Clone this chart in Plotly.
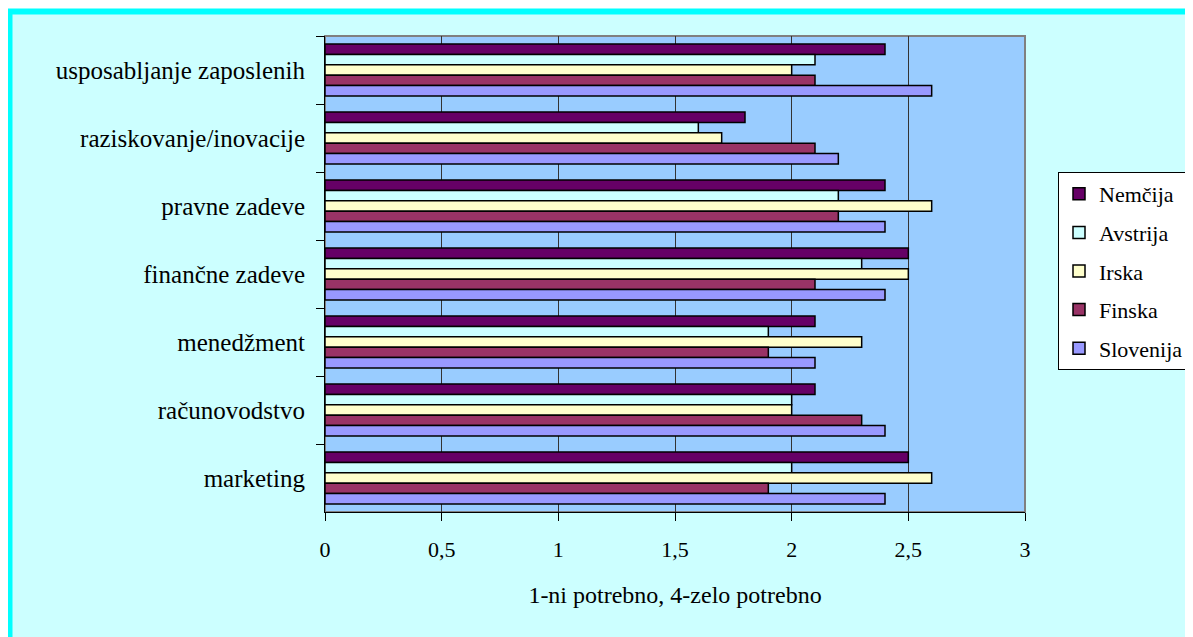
import plotly.graph_objects as go

# top-to-bottom order, as in the picture
categories = ["usposabljanje zaposlenih", "raziskovanje/inovacije", "pravne zadeve",
              "finančne zadeve", "menedžment", "računovodstvo", "marketing"]

series_names = ["Nemčija", "Avstrija", "Irska", "Finska", "Slovenija"]
nemcija = [2.4, 1.8, 2.4, 2.5, 2.1, 2.1, 2.5]
avstrija = [2.1, 1.6, 2.2, 2.3, 1.9, 2.0, 2.0]
irska = [2.0, 1.7, 2.6, 2.5, 2.3, 2.0, 2.6]
finska = [2.1, 2.1, 2.2, 2.1, 1.9, 2.3, 1.9]
slovenija = [2.6, 2.2, 2.4, 2.4, 2.1, 2.4, 2.4]
series_values = [nemcija, avstrija, irska, finska, slovenija]
colors = ["#660066", "#CCFFFF", "#FFFFCC", "#993366", "#9999FF"]

x_ticks = [0, 0.5, 1, 1.5, 2, 2.5, 3]
x_title = "1-ni potrebno, 4-zelo potrebno"

FONT = "Liberation Serif"
OFF = 8  # page body margin
W, H = 1193 - OFF, 637 - OFF
L, R, T, B = 325 - OFF, 1193 - 1025, 36 - OFF, 637 - 512
pw, ph = W - L - R, H - T - B


def px_x(p):
    return (p - OFF - L) / pw


def px_y(p):
    return (H - B - (p - OFF)) / ph


fig = go.Figure()
for name, vals, col in zip(series_names, series_values, colors):
    fig.add_trace(go.Bar(
        y=categories, x=vals, name=name, orientation="h",
        marker=dict(color=col, line=dict(color="black", width=1.5)),
        legendgroup=name,
    ))

fig.update_layout(
    width=W, height=H,
    margin=dict(l=L, r=R, t=T, b=B, pad=0, autoexpand=False),
    paper_bgcolor="white",
    plot_bgcolor="#99CCFF",
    separators=", ",
    barmode="group", bargap=0.235, bargroupgap=0,
    font=dict(family=FONT, size=22, color="black"),
    showlegend=True,
    legend=dict(
        x=px_x(1189), y=px_y(172), xanchor="right", yanchor="top",
        bgcolor="white", bordercolor="black", borderwidth=1,
        traceorder="grouped", tracegroupgap=7,
        font=dict(family=FONT, size=22, color="black"),
    ),
    shapes=[
        dict(type="rect", xref="paper", yref="paper", layer="below",
             x0=px_x(9.5), x1=px_x(1260), y0=px_y(700), y1=px_y(11.5),
             line=dict(color="#00FFFF", width=6), fillcolor="#CCFFFF"),
        dict(type="rect", xref="paper", yref="paper", layer="below",
             x0=0, x1=1, y0=0, y1=1,
             line=dict(color="#808080", width=2), fillcolor="#99CCFF"),
    ],
)

fig.update_xaxes(
    range=[0, 3], tickvals=x_ticks, tickformat=".1~f",
    showgrid=True, gridcolor="#333333", gridwidth=1,
    zeroline=False,
    showline=True, linecolor="black", linewidth=1,
    ticks="outside", ticklen=8, tickcolor="black",
    tickfont=dict(family=FONT, size=22),
    ticklabelstandoff=10,
    title=dict(text=x_title, font=dict(family=FONT, size=24), standoff=24),
)
fig.update_yaxes(
    type="category", range=[6.5, -0.5],
    categoryorder="array", categoryarray=categories,
    showgrid=False, zeroline=False,
    showline=True, linecolor="black", linewidth=1,
    ticks="outside", ticklen=8, tickcolor="black", tickson="boundaries",
    tickfont=dict(family=FONT, size=25),
    ticklabelstandoff=14,
)

fig.write_html("out.html")
